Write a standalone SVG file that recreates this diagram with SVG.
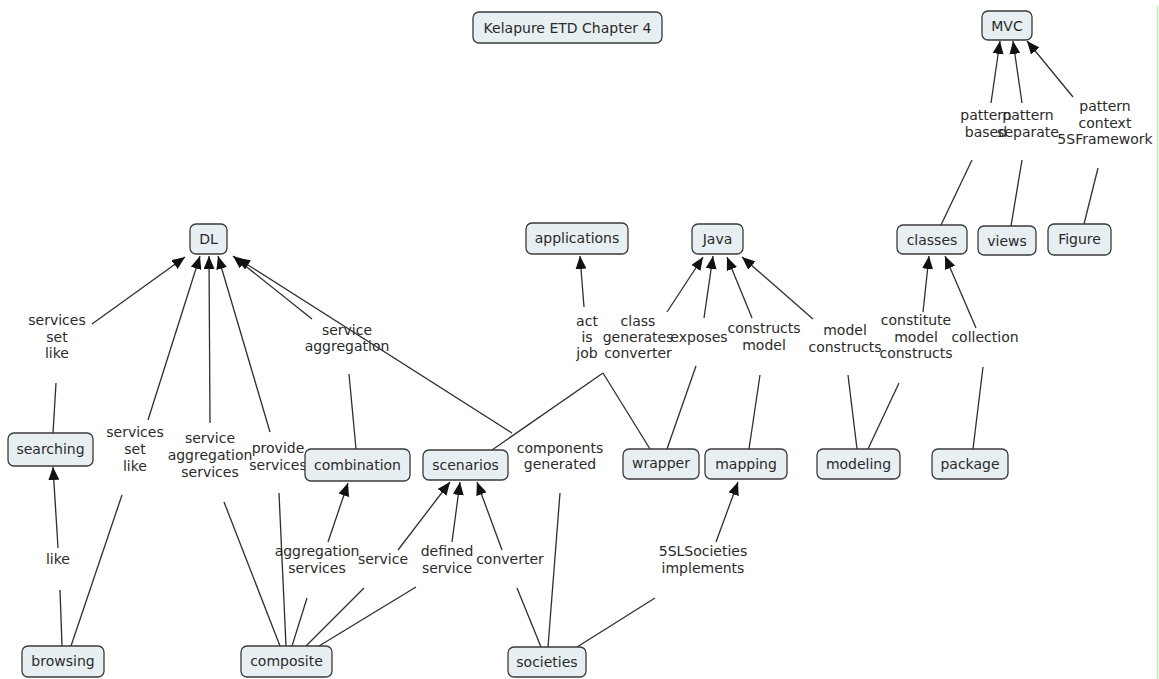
<svg xmlns="http://www.w3.org/2000/svg" width="1159" height="679" viewBox="0 0 1159 679">
  <style>
    .node rect { fill: #e8eff2; stroke: #3a3a3a; stroke-width: 1.3; }
    text { font-family: "DejaVu Sans", Verdana, sans-serif; font-size: 14px; fill: #2a2a2a; text-anchor: middle; }
    .link { stroke: #2e2e2e; stroke-width: 1.3; fill: none; }
    .arrow { marker-end: url(#head); }
  </style>
  <defs>
    <marker id="head" viewBox="0 0 13 11" refX="13" refY="5.5" markerWidth="13" markerHeight="11" markerUnits="userSpaceOnUse" orient="auto">
      <path d="M0,0 L13,5.5 L0,11 z" fill="#111"/>
    </marker>
  </defs>

  <rect x="0" y="0" width="1159" height="679" fill="#ffffff"/>
  <line x1="1157.5" y1="6" x2="1157.5" y2="679" stroke="#b8f2ae" stroke-width="1.5"/>

  <!-- connectors: concept to linking phrase, then linking phrase to concept -->
  <g id="connectors">
    <line class="link" x1="53" y1="433" x2="56" y2="383"/>
    <line class="link" x1="62" y1="646" x2="60" y2="590"/>
    <line class="link" x1="71" y1="646" x2="122" y2="495"/>
    <line class="link" x1="280" y1="646" x2="224" y2="502"/>
    <line class="link" x1="286" y1="646" x2="279" y2="493"/>
    <line class="link" x1="292" y1="646" x2="307" y2="598"/>
    <line class="link" x1="306" y1="646" x2="364" y2="588"/>
    <line class="link" x1="319" y1="646" x2="416" y2="587"/>
    <line class="link" x1="356" y1="449" x2="349" y2="374"/>
    <line class="link" x1="541" y1="647" x2="517" y2="588"/>
    <line class="link" x1="548" y1="647" x2="560" y2="493"/>
    <line class="link" x1="577" y1="647" x2="655" y2="598"/>
    <line class="link" x1="492" y1="450" x2="603" y2="373"/>
    <line class="link" x1="650" y1="449" x2="603" y2="373"/>
    <line class="link" x1="667" y1="449" x2="696" y2="366"/>
    <line class="link" x1="749" y1="449" x2="760" y2="375"/>
    <line class="link" x1="857" y1="449" x2="848" y2="375"/>
    <line class="link" x1="868" y1="449" x2="899" y2="383"/>
    <line class="link" x1="973" y1="449" x2="983" y2="367"/>
    <line class="link" x1="941" y1="225" x2="972" y2="160"/>
    <line class="link" x1="1011" y1="226" x2="1022" y2="160"/>
    <line class="link" x1="1084" y1="224" x2="1098" y2="168"/>

    <line class="link arrow" x1="92" y1="324" x2="185" y2="257"/>
    <line class="link arrow" x1="58" y1="548" x2="53" y2="467"/>
    <line class="link arrow" x1="148" y1="420" x2="200" y2="256"/>
    <line class="link arrow" x1="210" y1="423" x2="209" y2="256"/>
    <line class="link arrow" x1="270" y1="432" x2="218" y2="256"/>
    <line class="link arrow" x1="312" y1="319" x2="233" y2="256"/>
    <line class="link arrow" x1="512" y1="433" x2="237" y2="258"/>
    <line class="link arrow" x1="328" y1="542" x2="348" y2="483"/>
    <line class="link arrow" x1="398" y1="550" x2="450" y2="482"/>
    <line class="link arrow" x1="452" y1="542" x2="460" y2="482"/>
    <line class="link arrow" x1="502" y1="550" x2="477" y2="482"/>
    <line class="link arrow" x1="716" y1="542" x2="738" y2="482"/>
    <line class="link arrow" x1="584" y1="307" x2="580" y2="256"/>
    <line class="link arrow" x1="667" y1="312" x2="703" y2="257"/>
    <line class="link arrow" x1="704" y1="318" x2="713" y2="256"/>
    <line class="link arrow" x1="752" y1="318" x2="727" y2="257"/>
    <line class="link arrow" x1="813" y1="319" x2="742" y2="257"/>
    <line class="link arrow" x1="923" y1="312" x2="929" y2="256"/>
    <line class="link arrow" x1="976" y1="328" x2="945" y2="256"/>
    <line class="link arrow" x1="991" y1="103" x2="1000" y2="41"/>
    <line class="link arrow" x1="1022" y1="103" x2="1013" y2="41"/>
    <line class="link arrow" x1="1073" y1="97" x2="1027" y2="41"/>
  </g>

  <!-- linking phrases -->
  <g id="labels">
    <text x="57"><tspan x="57" y="325">services</tspan><tspan x="57" y="342">set</tspan><tspan x="57" y="358">like</tspan></text>
    <text x="58" y="564">like</text>
    <text><tspan x="135" y="437">services</tspan><tspan x="135" y="454">set</tspan><tspan x="135" y="471">like</tspan></text>
    <text><tspan x="210" y="443">service</tspan><tspan x="210" y="460">aggregation</tspan><tspan x="210" y="477">services</tspan></text>
    <text><tspan x="278" y="453">provide</tspan><tspan x="278" y="470">services</tspan></text>
    <text><tspan x="347" y="335">service</tspan><tspan x="347" y="351">aggregation</tspan></text>
    <text><tspan x="560" y="453">components</tspan><tspan x="560" y="469">generated</tspan></text>
    <text><tspan x="587" y="326">act</tspan><tspan x="587" y="342">is</tspan><tspan x="587" y="358">job</tspan></text>
    <text><tspan x="638" y="326">class</tspan><tspan x="638" y="342">generates</tspan><tspan x="638" y="358">converter</tspan></text>
    <text x="699" y="342">exposes</text>
    <text><tspan x="764" y="333">constructs</tspan><tspan x="764" y="350">model</tspan></text>
    <text><tspan x="845" y="335">model</tspan><tspan x="845" y="352">constructs</tspan></text>
    <text><tspan x="916" y="325">constitute</tspan><tspan x="916" y="342">model</tspan><tspan x="916" y="358">constructs</tspan></text>
    <text x="985" y="342">collection</text>
    <text><tspan x="986" y="120">pattern</tspan><tspan x="986" y="137">based</tspan></text>
    <text><tspan x="1028" y="120">pattern</tspan><tspan x="1028" y="137">separate</tspan></text>
    <text><tspan x="1105" y="111">pattern</tspan><tspan x="1105" y="128">context</tspan><tspan x="1105" y="144">5SFramework</tspan></text>
    <text><tspan x="317" y="556">aggregation</tspan><tspan x="317" y="573">services</tspan></text>
    <text x="383" y="564">service</text>
    <text><tspan x="447" y="556">defined</tspan><tspan x="447" y="573">service</tspan></text>
    <text x="510" y="564">converter</text>
    <text><tspan x="703" y="556">5SLSocieties</tspan><tspan x="703" y="573">implements</tspan></text>
  </g>

  <!-- concepts -->
  <g id="title" class="node"><rect x="473" y="12" width="189" height="31" rx="6"/><text x="567.5" y="33">Kelapure ETD Chapter 4</text></g>
  <g id="mvc" class="node"><rect x="982" y="11" width="50" height="29" rx="6"/><text x="1007" y="31">MVC</text></g>
  <g id="dl" class="node"><rect x="190" y="224" width="37" height="30" rx="6"/><text x="208.5" y="244">DL</text></g>
  <g id="applications" class="node"><rect x="526" y="223" width="102" height="31" rx="6"/><text x="577" y="243">applications</text></g>
  <g id="java" class="node"><rect x="692" y="224" width="51" height="30" rx="6"/><text x="717.5" y="244">Java</text></g>
  <g id="classes" class="node"><rect x="897" y="225" width="70" height="29" rx="6"/><text x="932" y="245">classes</text></g>
  <g id="views" class="node"><rect x="978" y="226" width="58" height="29" rx="6"/><text x="1007" y="246">views</text></g>
  <g id="figure" class="node"><rect x="1048" y="224" width="63" height="31" rx="6"/><text x="1079.5" y="244">Figure</text></g>
  <g id="searching" class="node"><rect x="8" y="433" width="85" height="33" rx="6"/><text x="50.5" y="454">searching</text></g>
  <g id="combination" class="node"><rect x="305" y="449" width="105" height="32" rx="6"/><text x="357.5" y="470">combination</text></g>
  <g id="scenarios" class="node"><rect x="423" y="450" width="85" height="30" rx="6"/><text x="465.5" y="470">scenarios</text></g>
  <g id="wrapper" class="node"><rect x="623" y="449" width="76" height="30" rx="6"/><text x="661" y="468">wrapper</text></g>
  <g id="mapping" class="node"><rect x="705" y="449" width="82" height="30" rx="6"/><text x="746" y="469">mapping</text></g>
  <g id="modeling" class="node"><rect x="817" y="449" width="83" height="30" rx="6"/><text x="858.5" y="469">modeling</text></g>
  <g id="package" class="node"><rect x="932" y="449" width="76" height="30" rx="6"/><text x="970" y="469">package</text></g>
  <g id="browsing" class="node"><rect x="22" y="646" width="82" height="31" rx="6"/><text x="63" y="666">browsing</text></g>
  <g id="composite" class="node"><rect x="241" y="646" width="91" height="31" rx="6"/><text x="286.5" y="666">composite</text></g>
  <g id="societies" class="node"><rect x="508" y="647" width="78" height="30" rx="6"/><text x="547" y="667">societies</text></g>
</svg>
